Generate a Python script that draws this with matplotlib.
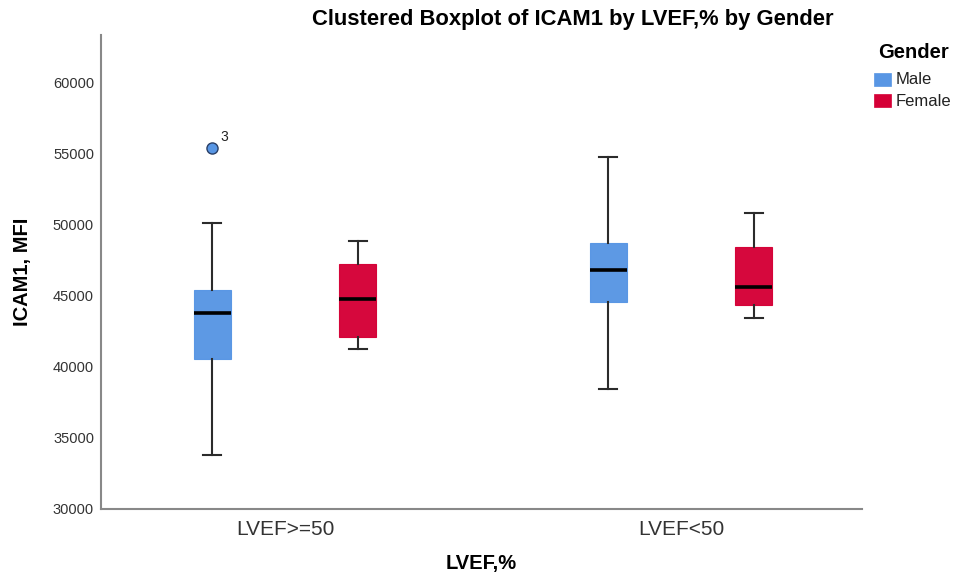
import matplotlib
matplotlib.use("Agg")
import matplotlib.pyplot as plt
from matplotlib.patches import Rectangle

plt.rcParams['font.family'] = ['Liberation Sans', 'DejaVu Sans']

# Categories and groups
categories = ["LVEF>=50", "LVEF<50"]
genders = ["Male", "Female"]
colors = {"Male": "#5896E4", "Female": "#D50036"}

# Box summary statistics per gender, one value per LVEF category
whislo = {"Male": [33800, 38430], "Female": [41270, 43450]}
q1 = {"Male": [40560, 44550], "Female": [42110, 44370]}
med = {"Male": [43780, 46830], "Female": [44770, 45650]}
q3 = {"Male": [45420, 48710], "Female": [47250, 48430]}
whishi = {"Male": [50140, 54770], "Female": [48870, 50820]}
fliers = {"Male": [[55420], []], "Female": [[], []]}
flier_labels = {"Male": [["3"], []], "Female": [[], []]}

yticks = [30000, 35000, 40000, 45000, 50000, 55000, 60000]

fig = plt.figure(figsize=(9.55, 5.79), dpi=100)
ax = fig.add_axes([101 / 955, 1 - 509 / 579, (862 - 101) / 955, (509 - 35) / 579])

offset = 0.184
box_w = 0.094
for gi, g in enumerate(genders):
    shift = -offset if g == "Male" else offset
    stats = []
    for ci in range(len(categories)):
        stats.append(dict(whislo=whislo[g][ci], q1=q1[g][ci], med=med[g][ci],
                          q3=q3[g][ci], whishi=whishi[g][ci], fliers=fliers[g][ci]))
    positions = [ci + shift for ci in range(len(categories))]
    ax.bxp(stats, positions=positions, widths=box_w, patch_artist=True,
           showfliers=True, manage_ticks=False,
           boxprops=dict(facecolor=colors[g], edgecolor=colors[g], linewidth=0.8, alpha=0.97),
           medianprops=dict(color="black", linewidth=2.6, solid_capstyle="butt"),
           whiskerprops=dict(color="#2b2b2b", linewidth=1.5),
           capprops=dict(color="#2b2b2b", linewidth=1.5),
           flierprops=dict(marker="o", markersize=8, markerfacecolor=colors[g],
                           markeredgecolor="#2a3f66", markeredgewidth=1.0))
    for ci in range(len(categories)):
        for val, lab in zip(fliers[g][ci], flier_labels[g][ci]):
            ax.annotate(lab, (positions[ci], val), xytext=(6, 3), textcoords="offset points",
                        fontsize=10, color="#222222", ha="left", va="bottom")

ax.set_xlim((101 - 285) / 396, (862 - 285) / 396)
ax.set_ylim(30000, 63380)
ax.set_yticks(yticks)
ax.set_yticklabels([str(t) for t in yticks])
ax.set_xticks(range(len(categories)))
ax.set_xticklabels(categories)

for side in ("top", "right"):
    ax.spines[side].set_visible(False)
for side in ("left", "bottom"):
    ax.spines[side].set_color("#888888")
    ax.spines[side].set_linewidth(1.5)

ax.tick_params(axis="y", length=0, pad=5, labelsize=10.5, labelcolor="#333333")
ax.tick_params(axis="x", length=0, pad=8, labelsize=15, labelcolor="#333333")

ax.set_ylabel("ICAM1, MFI", fontsize=14.5, fontweight="bold")
ax.yaxis.set_label_coords(-(101 - 32) / 761, 0.5)
fig.text(481 / 955, 1 - 564 / 579, "LVEF,%", fontsize=14.5, fontweight="bold",
         ha="center", va="center")

fig.text(573 / 955, 1 - 19 / 579, "Clustered Boxplot of ICAM1 by LVEF,% by Gender",
         fontsize=15.8, fontweight="bold", ha="center", va="center")

# Legend
fig.text(913 / 955, 1 - 53 / 579, "Gender", fontsize=14.5, fontweight="bold",
         ha="center", va="center")
for i, g in enumerate(genders):
    y_top = 73 + i * 21
    fig.patches.append(Rectangle((874 / 955, 1 - (y_top + 13) / 579), 17 / 955, 13 / 579,
                                 transform=fig.transFigure, facecolor=colors[g],
                                 edgecolor=colors[g], linewidth=0.5))
    fig.text(896 / 955, 1 - (y_top + 7) / 579, g, fontsize=12, color="#222222",
             ha="left", va="center")

fig.savefig("out.png", dpi=100, facecolor="white")
